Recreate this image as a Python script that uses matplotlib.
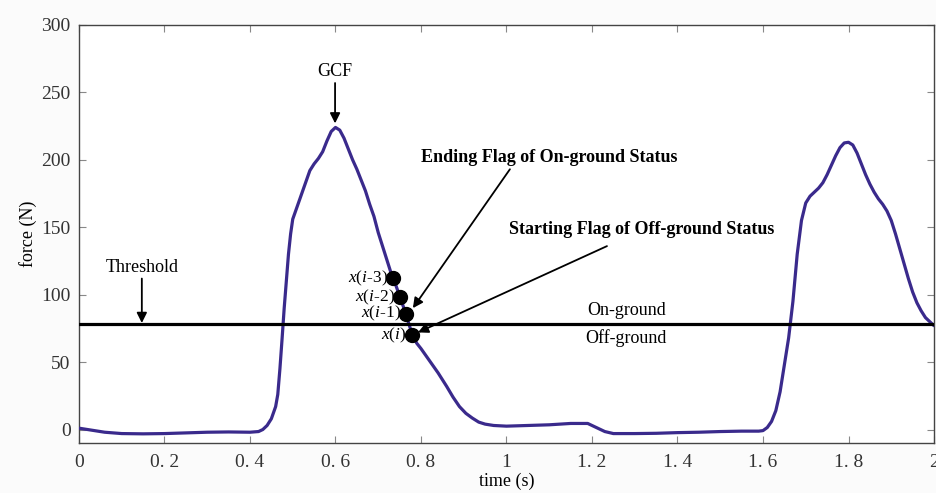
import matplotlib
matplotlib.use("Agg")
import matplotlib.pyplot as plt

plt.rcParams['font.family'] = ['Liberation Serif', 'DejaVu Serif']
plt.rcParams['mathtext.fontset'] = 'custom'
plt.rcParams['mathtext.it'] = 'Liberation Serif:italic'
plt.rcParams['mathtext.rm'] = 'Liberation Serif'

# ---- data ----
time_s = [0.00, 0.03, 0.06, 0.10, 0.15, 0.20, 0.25, 0.30, 0.35, 0.40, 0.42, 0.43, 0.44,
          0.45, 0.46, 0.465, 0.47, 0.475, 0.48, 0.485, 0.49, 0.495, 0.50, 0.51, 0.52,
          0.53, 0.54, 0.55, 0.56, 0.57, 0.58, 0.59, 0.60, 0.61, 0.62, 0.63, 0.64, 0.65,
          0.66, 0.67, 0.68, 0.69, 0.70, 0.71, 0.72, 0.73, 0.74, 0.75, 0.76, 0.77, 0.78,
          0.79, 0.80, 0.82, 0.84, 0.86, 0.875, 0.89, 0.905, 0.92, 0.935, 0.95, 0.97,
          1.00, 1.05, 1.10, 1.15, 1.19, 1.21, 1.23, 1.25, 1.30, 1.35, 1.40, 1.45, 1.50,
          1.55, 1.59, 1.60, 1.61, 1.62, 1.63, 1.64, 1.65, 1.66, 1.67, 1.68, 1.69, 1.70,
          1.71, 1.72, 1.73, 1.74, 1.75, 1.76, 1.77, 1.78, 1.79, 1.80, 1.81, 1.82, 1.83,
          1.84, 1.85, 1.86, 1.87, 1.88, 1.89, 1.90, 1.91, 1.92, 1.93, 1.94, 1.95, 1.96,
          1.97, 1.98, 1.99, 2.00]
force_N = [1, -0.5, -2, -3, -3.2, -3, -2.5, -2, -1.8, -2, -1.5, 0, 3,
           8, 17, 26, 45, 67, 90, 110, 130, 145, 156, 165, 174,
           183, 192, 197, 201, 206, 214, 221, 224, 222, 216, 208, 200, 193,
           185, 177, 167, 158, 146, 136, 126, 116, 108, 99, 90, 80, 70,
           64, 60, 51, 42, 32, 24, 17, 12, 8.5, 5.5, 4, 3,
           2.5, 3, 3.5, 4.5, 4.5, 1.5, -1.5, -3, -3, -2.8, -2.3, -2, -1.5,
           -1.2, -1.2, -0.8, 1.5, 6, 14, 28, 48, 68, 95, 130, 155, 168,
           173, 176, 179, 183, 189, 196, 203, 209, 212.5, 213, 211, 205, 197,
           189, 182, 176, 171, 167, 162, 155, 145, 134, 123, 112, 102, 94,
           88, 83, 80, 77]
threshold = 78
flag_t = [0.734, 0.751, 0.765, 0.779]
flag_f = [112, 98, 86, 70]
flag_labels = ['$x$($i$-3)', '$x$($i$-2)', '$x$($i$-1)', '$x$($i$)']
xticks = [0, 0.2, 0.4, 0.6, 0.8, 1.0, 1.2, 1.4, 1.6, 1.8, 2.0]
xtick_labels = ['0', '0. 2', '0. 4', '0. 6', '0. 8', '1', '1. 2', '1. 4', '1. 6', '1. 8', '2']
yticks = [0, 50, 100, 150, 200, 250, 300]

fig = plt.figure(figsize=(9.37, 4.93), dpi=100)
fig.patch.set_facecolor('#fbfbfb')
ax = fig.add_axes([0.0843, 0.1014, 0.9125, 0.848])
ax.set_facecolor('white')

ax.plot(time_s, force_N, color='#3a2a8c', lw=2.3, zorder=3,
        solid_joinstyle='round', solid_capstyle='round')
ax.axhline(threshold, color='black', lw=2.3, zorder=4)
ax.plot(flag_t, flag_f, 'o', color='black', ms=10, zorder=5)

for t, f, lab in zip(flag_t, flag_f, flag_labels):
    ax.text(t - 0.012, f, lab, ha='right', va='center', fontsize=12.5, zorder=6)

arrow = dict(arrowstyle='-|>', color='black', lw=1.3, mutation_scale=15, shrinkA=0, shrinkB=0)
ax.annotate('GCF', xy=(0.599, 227), xytext=(0.599, 259), ha='center', va='bottom',
            fontsize=13, arrowprops=arrow)
ax.annotate('Threshold', xy=(0.147, 79), xytext=(0.147, 114), ha='center', va='bottom',
            fontsize=13, arrowprops=arrow)
ax.text(1.10, 202, 'Ending Flag of On-ground Status', ha='center', va='center',
        fontsize=13, fontweight='bold')
ax.annotate('', xy=(0.781, 90), xytext=(1.008, 193), arrowprops=arrow)
ax.text(1.317, 148, 'Starting Flag of Off-ground Status', ha='center', va='center',
        fontsize=13, fontweight='bold')
ax.annotate('', xy=(0.793, 72), xytext=(1.235, 136), arrowprops=arrow)
ax.text(1.28, 88, 'On-ground', ha='center', va='center', fontsize=13)
ax.text(1.28, 68, 'Off-ground', ha='center', va='center', fontsize=13)

ax.set_xlim(0, 2)
ax.set_ylim(-10, 300)
ax.set_xticks(xticks)
ax.set_xticklabels(xtick_labels)
ax.set_yticks(yticks)
ax.tick_params(direction='in', top=True, right=True, length=5, width=0.8,
               color='#888888', labelsize=14, labelcolor='#333333')
ax.tick_params(axis='x', pad=8)
ax.tick_params(axis='y', pad=6)
for s in ax.spines.values():
    s.set_color('#444444')
    s.set_linewidth(1.0)
ax.set_xlabel('time (s)', fontsize=13, labelpad=1)
ax.set_ylabel('force (N)', fontsize=13, labelpad=3)

fig.savefig('out.png', dpi=100, facecolor=fig.get_facecolor())
